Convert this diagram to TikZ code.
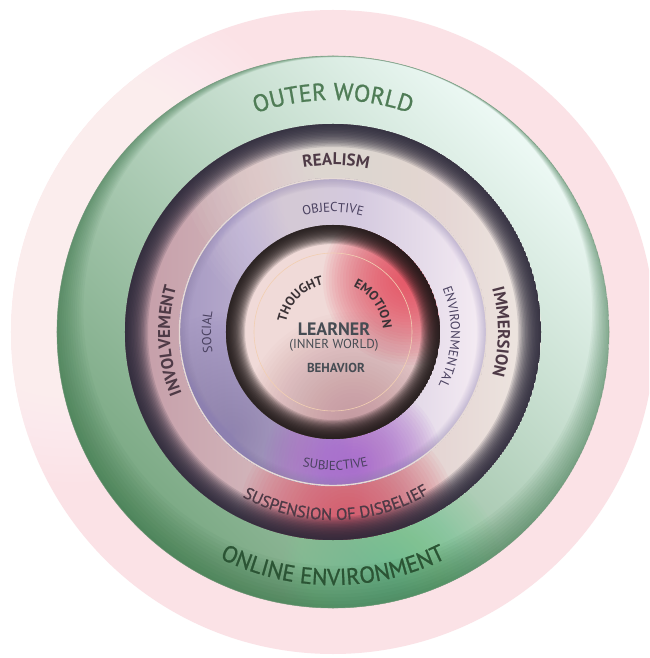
\documentclass[tikz,border=0pt]{standalone}
\usepackage{fontspec}
\setmainfont{PT Sans}
\newfontfamily\heavysans[FakeBold=1]{PT Sans}
\usetikzlibrary{decorations.text}

% colours
\definecolor{haloin}{HTML}{FBE2E6}
\definecolor{halomid}{HTML}{FCEDEF}
\definecolor{haloout}{HTML}{FDF4F5}
\definecolor{gmint}{HTML}{EDF9F5}
\definecolor{gpale}{HTML}{C6DFCE}
\definecolor{ggreen}{HTML}{75A57E}
\definecolor{gdeep}{HTML}{2E6A3E}
\definecolor{gedge}{HTML}{6F9478}
\definecolor{gbright}{HTML}{6FD592}
\definecolor{dmauve}{HTML}{C49CA7}
\definecolor{dcream}{HTML}{EFE8E2}
\definecolor{dred}{HTML}{D34F63}
\definecolor{drim}{HTML}{2B2839}
\definecolor{lblue}{HTML}{A699C2}
\definecolor{lwhite}{HTML}{F6EDF4}
\definecolor{ltop}{HTML}{EDE2EF}
\definecolor{lpurple}{HTML}{8D80B0}
\definecolor{lviolet}{HTML}{A962CC}
\definecolor{ledge}{HTML}{E6DAD6}
\definecolor{ipale}{HTML}{F0DAD8}
\definecolor{ired}{HTML}{E4485B}
\definecolor{imauve}{HTML}{B98690}
\definecolor{irim}{HTML}{1F1818}
\definecolor{ithin}{HTML}{F2CFB2}
\definecolor{owgreen}{HTML}{4F7C56}
\definecolor{oegreen}{HTML}{2B5434}
\definecolor{ringtext}{HTML}{4E3A46}
\definecolor{midtext}{HTML}{4A4160}
\definecolor{coretext}{HTML}{464C53}
\definecolor{thinktext}{HTML}{3B3236}

\pgfdeclareradialshading{halo}{\pgfpointorigin}{color(0bp)=(haloin); color(46bp)=(haloin); color(46.4bp)=(halomid); color(50bp)=(haloout)}

% soft round spot: colour, step opacity, centre, radius
\newcommand\softspot[4]{%
  \foreach \k in {1,...,30}{\fill[#1, fill opacity=#2] #3 circle[radius=#4*\k/30];}}
% dark rim inside a circle: colour, radius, depth, step opacity
\newcommand\rimshade[4]{%
  \foreach \k in {1,...,16}{\fill[#1, fill opacity=#4, even odd rule] (0,0) circle[radius=#2] circle[radius=#2-#3*\k/16];}}

% fonts
\newcommand\bigringfont{\fontsize{24}{24}\heavysans}
\newcommand\onlinefont{\fontsize{23}{23}\heavysans}
\newcommand\ringfont{\fontsize{17}{17}\selectfont\bfseries}
\newcommand\suspfont{\fontsize{16.5}{16.5}\heavysans}
\newcommand\midfont{\fontsize{13}{13}\selectfont}
\newcommand\thinkfont{\fontsize{13}{13}\selectfont\bfseries}

\tikzset{
  arc label/.style={decorate, decoration={text along path, text align=center, text={#1}}},
}

\begin{document}
\begin{tikzpicture}[x=1pt, y=1pt]
  \useasboundingbox (-333,-326) rectangle (316,332);
  \clip (-333,-326) rectangle (316,332);
  \fill[white] (-333,-326) rectangle (316,332);

  % Halo
  \shade[shading=halo] (0,0) circle[radius=322];
  \softspot{white}{.055}{(-260,100)}{250}

  % Outer world
  \begin{scope}
    \clip (0,0) circle[radius=276];
    \shade[top color=gmint, middle color=gpale, bottom color=ggreen, shading angle=-45] (0,0) circle[radius=276];
    \softspot{gbright}{.035}{(60,-240)}{110}
    \foreach \k in {1,...,12}{\fill[gdeep, fill opacity=.05, even odd rule] (0,0) circle[radius=276] (0.4*\k,1.7*\k) circle[radius=276-1.8*\k];}
  \end{scope}
  \draw[gedge, draw opacity=.7, line width=.6] (0,0) circle[radius=276];

  % Realism ring
  \begin{scope}
    \clip (0,0) circle[radius=208];
    \shade[left color=dmauve, right color=dcream] (0,0) circle[radius=208];
    \softspot{dcream}{.055}{(40,200)}{200}
    \softspot{dred}{.055}{(15,-190)}{110}
    \rimshade{drim}{208}{23}{.14}
  \end{scope}

  % Objective ring
  \begin{scope}
    \clip (0,0) circle[radius=154];
    \shade[left color=lblue, right color=lwhite] (0,0) circle[radius=154];
    \softspot{ltop}{.04}{(0,150)}{150}
    \softspot{lpurple}{.035}{(-100,-100)}{120}
    \softspot{lviolet}{.055}{(20,-135)}{90}
    \rimshade{lpurple}{154}{10}{.03}
  \end{scope}
  \draw[ledge, line width=1.4] (0,0) circle[radius=153.5];

  % Learner
  \begin{scope}
    \clip (0,0) circle[radius=107];
    \fill[ipale] (0,0) circle[radius=107];
    \softspot{ired}{.06}{(75,52)}{85}
    \softspot{imauve}{.035}{(20,-90)}{110}
    \rimshade{irim}{107}{19}{.15}
  \end{scope}
  \draw[ithin, line width=.6] (0,0) circle[radius=79];

  % Labels on the rings
  \path[arc label={|\color{owgreen}\bigringfont|OUTER WORLD}] (150:232) arc[start angle=150, end angle=30, radius=232];
  \path[arc label={|\color{oegreen}\onlinefont|ONLINE ENVIRONMENT}] (200:253) arc[start angle=200, end angle=340, radius=253];

  \path[arc label={|\color{ringtext}\ringfont|REALISM}] (149:167) arc[start angle=149, end angle=29, radius=167];
  \path[arc label={|\color{ringtext}\ringfont|IMMERSION}] (60:165) arc[start angle=60, end angle=-60, radius=165];
  \path[arc label={|\color{ringtext}\ringfont|INVOLVEMENT}] (243:163) arc[start angle=243, end angle=123, radius=163];
  \path[arc label={|\color{ringtext}\suspfont|SUSPENSION OF DISBELIEF}] (201:188) arc[start angle=201, end angle=341, radius=188];

  \path[arc label={|\color{midtext}\midfont|OBJECTIVE}] (150:120) arc[start angle=150, end angle=30, radius=120];
  \path[arc label={|\color{midtext}\midfont|ENVIRONMENTAL}] (57.5:118) arc[start angle=57.5, end angle=-62.5, radius=118];
  \path[arc label={|\color{midtext}\midfont|SOCIAL}] (240:122) arc[start angle=240, end angle=120, radius=122];
  \path[arc label={|\color{midtext}\midfont|SUBJECTIVE}] (211:138) arc[start angle=211, end angle=331, radius=138];

  \path[arc label={|\color{thinktext}\thinkfont|THOUGHT}] (195:48) arc[start angle=195, end angle=75, radius=48];
  \path[arc label={|\color{thinktext}\thinkfont|EMOTION}] (95:50) arc[start angle=95, end angle=-25, radius=50];

  % Centre
  \node[text=coretext, font=\fontsize{18}{18}\selectfont\bfseries] (learner) at (1,3) {LEARNER};
  \node[text=coretext, font=\fontsize{13}{13}\selectfont] (innerworld) at (1,-13) {(INNER WORLD)};
  \node[text=coretext, font=\fontsize{13}{13}\selectfont\bfseries] (behavior) at (3,-36) {BEHAVIOR};
\end{tikzpicture}
\end{document}
